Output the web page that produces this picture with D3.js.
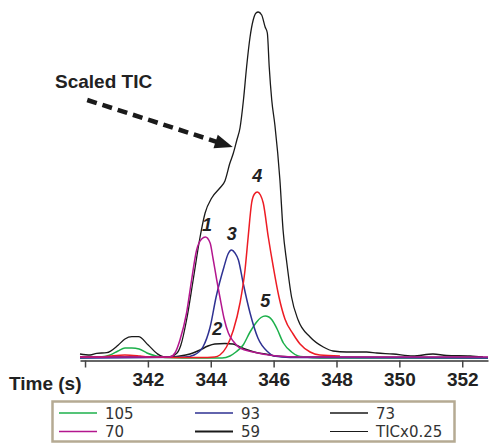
<!DOCTYPE html>
<html>
<head>
<meta charset="utf-8">
<script src="https://cdn.jsdelivr.net/npm/d3@7"></script>
<style>
	body { margin: 0; background: #fff; }
	svg { display: block; font-family: "Liberation Sans", Arial, sans-serif; }
</style>
</head>
<body>
<svg id="chart" width="491" height="443"></svg>
<script>
// [time (s), intensity]
const tic = [[339.84,4],[340.16,3],[340.37,4.7],[340.69,5.3],[341.06,13],[341.27,19],[341.49,21.3],[341.70,21.3],[342.01,13],[342.28,4.7],[342.49,1.3],[342.70,1.3],[342.92,4.7],[343.05,13],[343.23,38],[343.44,78],[343.66,121],[343.82,145],[344.03,160],[344.29,170],[344.45,177],[344.61,195],[344.72,205],[344.83,218],[344.93,230],[345.04,258],[345.14,291],[345.25,321],[345.35,338],[345.44,345],[345.51,346],[345.62,343],[345.73,331],[345.80,325],[345.86,291],[345.94,258],[346.04,233],[346.20,178],[346.30,128],[346.42,95],[346.57,61],[346.78,38],[347.16,21],[347.58,11],[347.89,7],[348.32,6],[348.96,6],[349.28,5],[349.80,4],[350.43,2],[351.07,4],[351.50,2.5],[352.25,2],[352.66,1]]
const mz70 = [[339.84,1],[342.70,1],[342.86,5],[343.02,18],[343.23,45],[343.39,78],[343.55,108],[343.71,119],[343.83,121],[343.98,115],[344.07,100],[344.19,78],[344.29,61],[344.42,40],[344.56,25],[344.71,17],[344.93,10],[345.35,6],[346.10,2],[346.84,1],[352.82,1]]
const mz93 = [[339.84,0],[343.18,1],[343.47,3],[343.75,11],[343.98,31],[344.17,61],[344.42,91],[344.55,104],[344.66,108],[344.77,105],[344.88,98],[345.03,75],[345.25,45],[345.50,20],[345.82,6],[346.01,2],[346.52,0.5],[352.82,0]]
const mz73 = [[339.84,1],[340.48,1],[340.80,2],[341.27,3],[341.75,2],[342.07,1],[343.66,0.5],[344.13,1],[344.29,3],[344.50,11],[344.72,28],[344.93,55],[345.09,88],[345.19,121],[345.30,155],[345.39,164],[345.48,166],[345.58,163],[345.67,155],[345.83,121],[345.99,91],[346.17,61],[346.36,39],[346.62,24],[346.84,14],[347.16,6],[347.47,3],[348.11,2]]
const mz105 = [[339.84,0],[340.48,1],[340.80,3],[341.05,7],[341.27,10],[341.49,10],[341.72,9],[341.97,5],[342.26,2],[342.54,0.5],[343.66,0],[344.36,0],[344.61,2],[344.80,6],[345.03,13],[345.25,26],[345.46,36],[345.60,40.5],[345.73,42],[345.85,41],[345.95,38],[346.11,29],[346.31,15],[346.57,6],[346.78,2],[347.00,1],[347.47,0],[352.82,0]]
const mz59 = [[339.84,1],[342.70,1],[343.02,2],[343.34,4],[343.66,8],[343.91,12],[344.13,14],[344.45,14.5],[344.71,14],[344.93,11],[345.18,8],[345.44,5.5],[345.73,4],[346.04,2],[346.84,1],[352.82,0.5]]

const tickValues = [340, 342, 344, 346, 348, 350, 352]
const legendLabels = ["105", "93", "73", "70", "59", "TICx0.25"]
const legendColors = ["#1db04b", "#2e3192", "#1a1a1a", "#b3168e", "#1a1a1a", "#1a1a1a"]
const peakLabels = [["1", 343.88, 127], ["3", 344.67, 118], ["4", 345.48, 176], ["5", 345.73, 51], ["2", 344.21, 23]]

const svg = d3.select("#chart")
const x = d3.scaleLinear().domain([339.84, 352.82]).range([80, 488]),
y = d3.scaleLinear().domain([0, 350]).range([358, 8])

const line = d3.line().x(d => x(d[0])).y(d => y(d[1])).curve(d3.curveMonotoneX)

// plot order: magenta last so its tail sits on top
const series = [
	{data: tic, color: "#1a1a1a", width: 1.3},
	{data: mz59, color: "#1a1a1a", width: 1.6},
	{data: mz105, color: "#1db04b", width: 1.5},
	{data: mz93, color: "#2e3192", width: 1.5},
	{data: mz73, color: "#ed1c24", width: 1.5},
	{data: mz70, color: "#b3168e", width: 1.5}
]
svg.append("g").selectAll("path")
	.data(series)
	.enter().append("path")
	.attr("d", d => line(d.data))
	.attr("fill", "none")
	.attr("stroke", d => d.color)
	.attr("stroke-width", d => d.width)
	.attr("stroke-linejoin", "round")

// axis
const axis = svg.append("g")
	.attr("transform", "translate(0,360.5)")
	.call(d3.axisBottom(x).tickValues(tickValues).tickSize(7).tickSizeOuter(0).tickPadding(5)
		.tickFormat(d => d == 340 ? "" : d))
axis.select(".domain").attr("stroke", "#333").attr("stroke-width", 1.5)
axis.selectAll(".tick line").attr("stroke", "#444").attr("stroke-width", 1.5)
axis.selectAll(".tick text")
	.attr("font-family", "Liberation Sans, Arial, sans-serif")
	.attr("font-size", 19).attr("font-weight", "bold").attr("fill", "#222")
svg.append("text")
	.attr("x", 9).attr("y", 390)
	.attr("font-size", 19).attr("font-weight", "bold").attr("fill", "#222")
	.text("Time (s)")

// peak numbers
svg.append("g").selectAll("text")
	.data(peakLabels)
	.enter().append("text")
	.attr("x", d => x(d[1])).attr("y", d => y(d[2]))
	.attr("text-anchor", "middle")
	.attr("font-size", 18).attr("font-weight", "bold").attr("font-style", "italic").attr("fill", "#222")
	.text(d => d[0])

// scaled TIC callout
svg.append("text")
	.attr("x", 55).attr("y", 88)
	.attr("font-size", 19).attr("font-weight", "bold").attr("fill", "#222")
	.text("Scaled TIC")
const a0 = [x(340.07), y(258)], a1 = [x(344.7), y(211)],
ang = Math.atan2(a1[1]-a0[1], a1[0]-a0[0]),
back = [a1[0] - 17*Math.cos(ang), a1[1] - 17*Math.sin(ang)]
svg.append("line")
	.attr("x1", a0[0]).attr("y1", a0[1]).attr("x2", back[0]).attr("y2", back[1])
	.attr("stroke", "#1a1a1a").attr("stroke-width", 4.5).attr("stroke-dasharray", "10,6")
svg.append("path")
	.attr("d", "M 0,0 L -18,-7 L -18,7 Z")
	.attr("transform", `translate(${a1[0]},${a1[1]}) rotate(${ang*180/Math.PI})`)
	.attr("fill", "#1a1a1a")

// legend
const legend = svg.append("g")
legend.append("rect")
	.attr("x", 52.5).attr("y", 401.5).attr("width", 402).attr("height", 40)
	.attr("fill", "#fff").attr("stroke", "#b5aa93").attr("stroke-width", 2.5)
const colX = [59, 195, 330], rowY = [413, 431.5]
const items = legend.selectAll("g.item")
	.data(legendLabels)
	.enter().append("g").classed("item", true)
	.attr("transform", (d, i) => `translate(${colX[i % 3]},${rowY[Math.floor(i / 3)]})`)
items.append("line")
	.attr("x1", 0).attr("x2", 38).attr("y1", 0).attr("y2", 0)
	.attr("stroke", (d, i) => legendColors[i])
	.attr("stroke-width", (d, i) => i == 4 ? 2 : i == 5 ? 1.2 : 1.5)
items.append("text")
	.attr("x", 46).attr("y", 5.5)
	.attr("font-family", "DejaVu Sans, Verdana, sans-serif")
	.attr("font-size", 15).attr("fill", "#333")
	.text(d => d)
</script>
</body>
</html>
